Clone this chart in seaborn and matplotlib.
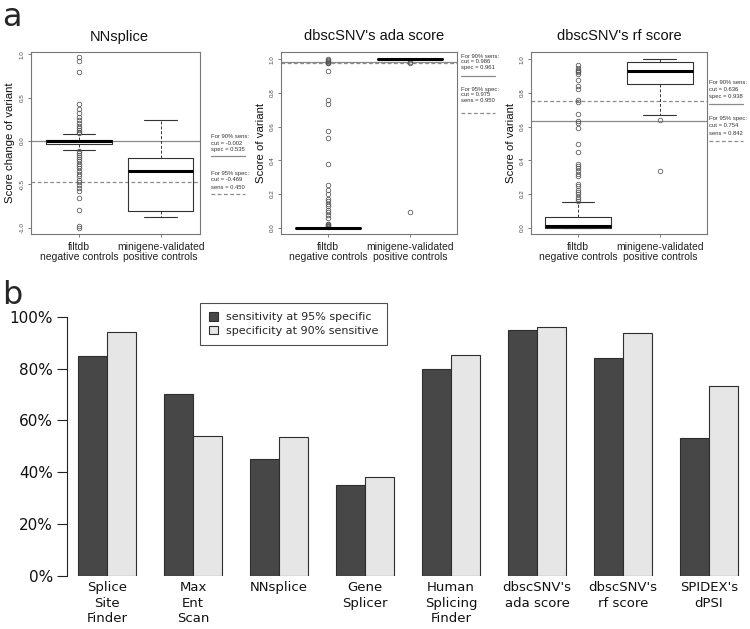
import matplotlib
matplotlib.use("Agg")
import matplotlib.pyplot as plt
import numpy as np
import pandas as pd
import seaborn as sns

# ---------------- data ----------------
groups = ["filtdb\nnegative controls", "minigene-validated\npositive controls"]
panel_titles = ["NNsplice", "dbscSNV's ada score", "dbscSNV's rf score"]
panel_ylabels = ["Score change of variant", "Score of variant", "Score of variant"]

# box stats: whislo, q1, med, q3, whishi
nn_neg_stats = [-0.104, -0.030, 0.005, 0.012, 0.077]
nn_neg_out = [0.969, 0.927, 0.792, 0.427, 0.373, 0.323, 0.277, 0.238, 0.208, 0.177,
              0.154, 0.131, 0.108, 0.092, -0.115, -0.138, -0.162, -0.185, -0.208,
              -0.231, -0.262, -0.285, -0.315, -0.346, -0.377, -0.408, -0.446, -0.477,
              -0.508, -0.538, -0.577, -0.662, -0.792, -0.985, -1.0]
nn_pos_stats = [-0.877, -0.804, -0.350, -0.200, 0.238]
nn_pos_out = []

ada_neg_stats = [0.0, 0.0, 0.0, 0.0, 0.0]
ada_neg_out = [1.0, 0.995, 0.99, 0.985, 0.98, 0.975, 0.931, 0.758, 0.737, 0.574, 0.535,
               0.376, 0.25, 0.224, 0.2, 0.17, 0.155, 0.143, 0.131, 0.107, 0.091, 0.075,
               0.059, 0.024, 0.02, 0.016, 0.012, 0.008, 0.004]
ada_pos_stats = [1.0, 0.999, 1.0, 1.0, 1.0]
ada_pos_out = [0.986, 0.98, 0.093]

rf_neg_stats = [0.0, 0.0, 0.010, 0.061, 0.152]
rf_neg_out = [0.966, 0.95, 0.939, 0.931, 0.923, 0.911, 0.875, 0.84, 0.824, 0.756, 0.745,
              0.673, 0.634, 0.622, 0.594, 0.495, 0.448, 0.38, 0.368, 0.356, 0.337, 0.317,
              0.309, 0.257, 0.246, 0.222, 0.21, 0.198, 0.182, 0.17, 0.158]
rf_pos_stats = [0.668, 0.856, 0.929, 0.984, 1.0]
rf_pos_out = [0.642, 0.336]

cut90 = [-0.002, 0.986, 0.636]
spec90 = [0.535, 0.961, 0.938]
cut95 = [-0.469, 0.975, 0.754]
sens95 = [0.450, 0.950, 0.842]

tools = ["Splice\nSite\nFinder", "Max\nEnt\nScan", "NNsplice", "Gene\nSplicer",
         "Human\nSplicing\nFinder", "dbscSNV's\nada score", "dbscSNV's\nrf score",
         "SPIDEX's\ndPSI"]
sens_at_95spec = [0.85, 0.70, 0.450, 0.35, 0.80, 0.950, 0.842, 0.53]
spec_at_90sens = [0.942, 0.539, 0.535, 0.382, 0.852, 0.961, 0.938, 0.734]
bar_series = ["sensitivity at 95% specific", "specificity at 90% sensitive"]
pct_ticks = [0.0, 0.2, 0.4, 0.6, 0.8, 1.0]

# ---------------- figure ----------------
sns.set_theme(style="ticks")
plt.rcParams["font.family"] = ["Liberation Sans", "DejaVu Sans"]

W, H = 750, 629
fig = plt.figure(figsize=(7.5, 6.29), dpi=100)


def ax_px(l, t, r, b):
    return fig.add_axes([l / W, 1 - b / H, (r - l) / W, (b - t) / H])


def fx(x):
    return x / W


def fy(y):
    return 1 - y / H


def mk(st, out):
    return dict(whislo=st[0], q1=st[1], med=st[2], q3=st[3], whishi=st[4], fliers=out)


panels = [
    dict(rect=(31, 51.7, 200, 234.3), xlim=(0.415, 2.48), ylim=(-1.076, 1.03),
         yt=[-1.0, -0.5, 0.0, 0.5, 1.0],
         stats=[mk(nn_neg_stats, nn_neg_out), mk(nn_pos_stats, nn_pos_out)],
         title_x=119.5,
         tx=210.7, t1=[136, 143.3, 149.7], l1=156, t2=[173.3, 180, 187], l2=194.3),
    dict(rect=(281, 51.7, 457.3, 234.3), xlim=(0.425, 2.58), ylim=(-0.04, 1.045),
         yt=[0.0, 0.2, 0.4, 0.6, 0.8, 1.0],
         stats=[mk(ada_neg_stats, ada_neg_out), mk(ada_pos_stats, ada_pos_out)],
         title_x=373.8,
         tx=460.7, t1=[56, 61.5, 67], l1=76, t2=[89.3, 95, 100.7], l2=113.3),
    dict(rect=(531, 51.7, 707.3, 234.3), xlim=(0.425, 2.58), ylim=(-0.04, 1.045),
         yt=[0.0, 0.2, 0.4, 0.6, 0.8, 1.0],
         stats=[mk(rf_neg_stats, rf_neg_out), mk(rf_pos_stats, rf_pos_out)],
         title_x=619.5,
         tx=709.3, t1=[82.7, 89.3, 96.7], l1=104.3, t2=[118.3, 125.3, 133.3], l2=141),
]

line_col = "#8a8a8a"
for i, p in enumerate(panels):
    l, t, r, b = p["rect"]
    ax = ax_px(l, t, r, b)
    ax.axhline(cut90[i], color=line_col, lw=0.9, zorder=1)
    ax.axhline(cut95[i], color=line_col, lw=0.9, ls=(0, (3, 2)), zorder=1)
    ax.bxp(p["stats"], positions=[1, 2], widths=0.8, capwidths=0.4, showfliers=True,
           boxprops=dict(color="#333333", lw=0.8),
           whiskerprops=dict(color="#333333", lw=0.7, ls=(0, (3, 2))),
           capprops=dict(color="#333333", lw=0.8),
           medianprops=dict(color="black", lw=2.2, solid_capstyle="butt"),
           flierprops=dict(marker="o", markerfacecolor="none", markeredgecolor="#555555",
                           markersize=3.3, markeredgewidth=0.55, linestyle="none"))
    ax.set_xlim(*p["xlim"])
    ax.set_ylim(*p["ylim"])
    ax.set_yticks(p["yt"])
    ax.set_yticklabels([f"{v:.1f}" for v in p["yt"]], rotation=90, va="center")
    ax.set_xticks([1, 2])
    ax.set_xticklabels(groups, fontsize=7.5, linespacing=1.05)
    ax.tick_params(axis="y", labelsize=4.5, length=2.5, width=0.6, color="#666666",
                   pad=2, labelcolor="#444444", left=True)
    ax.tick_params(axis="x", length=2.5, width=0.6, color="#666666", pad=3,
                   labelcolor="#222222", bottom=True)
    for s in ax.spines.values():
        s.set_visible(True)
        s.set_color("#777777")
        s.set_linewidth(0.8)
    axw = r - l
    ax.set_ylabel(panel_ylabels[i], fontsize=8.2, color="#111111")
    ax.yaxis.set_label_coords(-15.5 / axw, 0.5)
    fig.text(fx(p["title_x"]), fy(36.5), panel_titles[i], ha="center", va="center",
             fontsize=10.5, color="#111111")
    # side annotations
    lines1 = ["For 90% sens:", f"cut = {cut90[i]:.3f}", f"spec = {spec90[i]:.3f}"]
    lines2 = ["For 95% spec:", f"cut = {cut95[i]:.3f}", f"sens = {sens95[i]:.3f}"]
    for s, yy in zip(lines1, p["t1"]):
        fig.text(fx(p["tx"]), fy(yy), s, fontsize=4.2, va="center", ha="left", color="#333333")
    for s, yy in zip(lines2, p["t2"]):
        fig.text(fx(p["tx"]), fy(yy), s, fontsize=4.2, va="center", ha="left", color="#333333")
    fig.add_artist(plt.Line2D([fx(p["tx"]), fx(p["tx"] + 34)], [fy(p["l1"])] * 2,
                              color=line_col, lw=0.9))
    fig.add_artist(plt.Line2D([fx(p["tx"]), fx(p["tx"] + 34)], [fy(p["l2"])] * 2,
                              color=line_col, lw=0.9, ls=(0, (3, 2))))

# ---------------- panel b ----------------
axb = ax_px(66.7, 316.7, 750, 575.7)
df = pd.DataFrame({
    "tool": tools * 2,
    "value": sens_at_95spec + spec_at_90sens,
    "metric": [bar_series[0]] * len(tools) + [bar_series[1]] * len(tools),
})
sns.barplot(data=df, x="tool", y="value", hue="metric", hue_order=bar_series,
            palette=["#474747", "#e6e6e6"], width=2 / 3, saturation=1,
            edgecolor="#2e2e2e", linewidth=0.8, errorbar=None, ax=axb)
axb.set_xlim(-0.469, 7.477)
axb.set_ylim(0, 1)
axb.set_xlabel("")
axb.set_ylabel("")
for k in ["top", "right", "bottom"]:
    axb.spines[k].set_visible(False)
axb.spines["left"].set_bounds(0, 1)
axb.spines["left"].set_color("#222222")
axb.spines["left"].set_linewidth(0.8)
axb.set_yticks(pct_ticks)
axb.set_yticklabels([f"{int(round(v * 100))}%" for v in pct_ticks], family="DejaVu Sans")
axb.tick_params(axis="y", length=7.2, width=0.8, labelsize=11, pad=2.5, color="#222222",
                labelcolor="#111111", left=True)
axb.set_xticks(range(len(tools)))
axb.set_xticklabels(tools, fontsize=9.5, linespacing=1.25, family="DejaVu Sans")
axb.tick_params(axis="x", length=0, pad=4, labelcolor="#111111")

handles, labels = axb.get_legend_handles_labels()
if axb.get_legend() is not None:
    axb.get_legend().remove()
leg = axb.legend(handles, labels, loc="upper left",
                 bbox_to_anchor=(fx(200), fy(303.3)), bbox_transform=fig.transFigure,
                 frameon=True, fancybox=False, fontsize=8, handlelength=0.8,
                 handleheight=0.8, handletextpad=0.7, borderpad=0.8, labelspacing=0.3,
                 borderaxespad=0, prop={"family": "DejaVu Sans", "size": 8})
leg.get_frame().set_edgecolor("#222222")
leg.get_frame().set_linewidth(0.8)

# panel letters
fig.text(fx(2), fy(26), "a", fontsize=23, va="baseline", ha="left", family="DejaVu Sans")
fig.text(fx(2), fy(304), "b", fontsize=23, va="baseline", ha="left", family="DejaVu Sans")

fig.savefig("out.png", dpi=100)
